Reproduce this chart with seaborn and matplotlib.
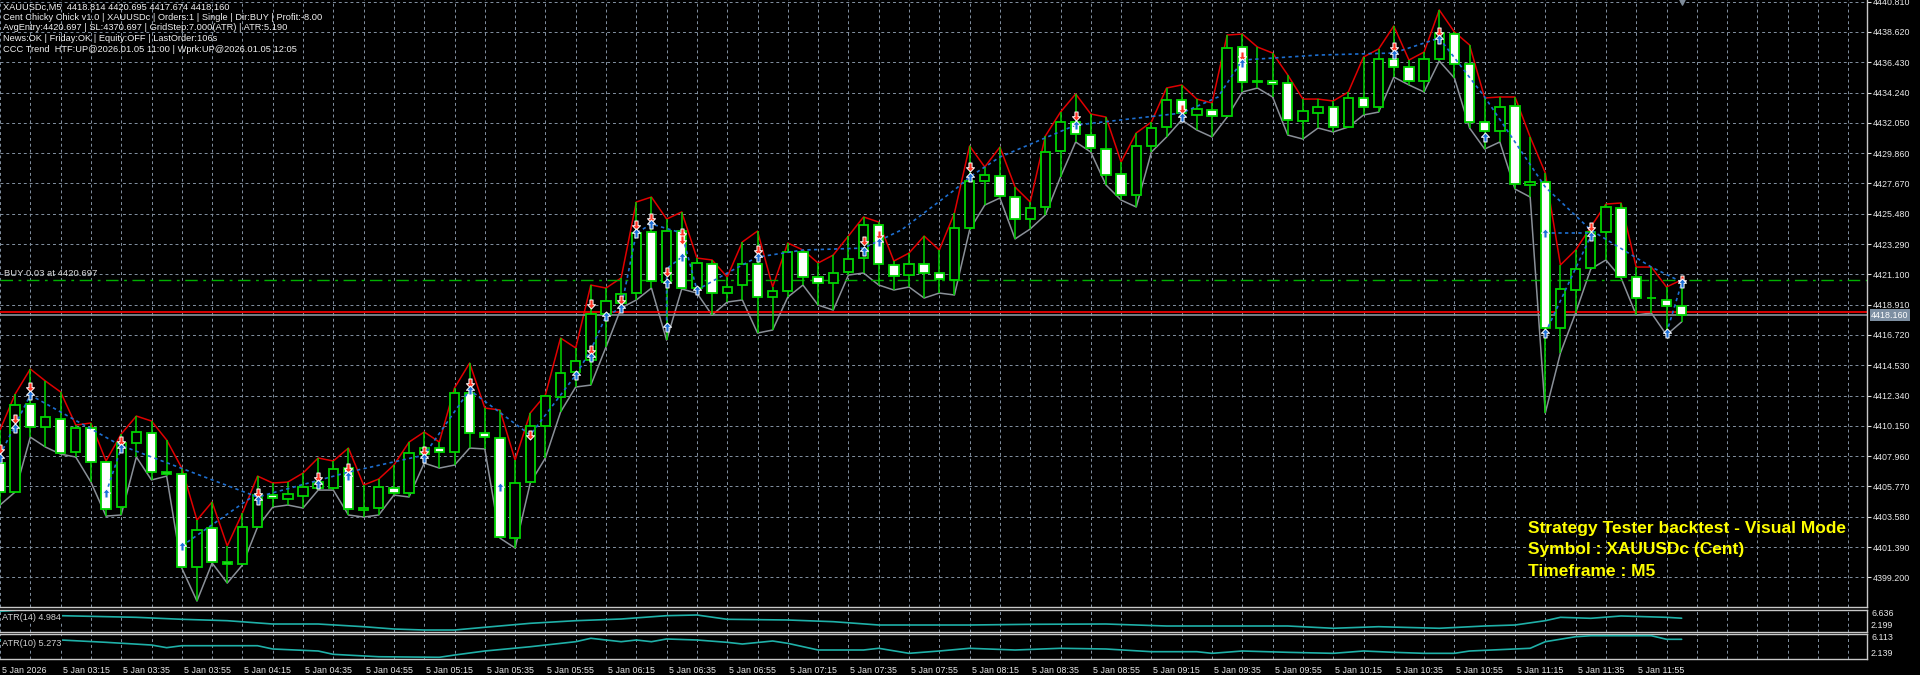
import numpy as np
import pandas as pd
import matplotlib
matplotlib.use("Agg")
import matplotlib.pyplot as plt
import matplotlib.transforms as mtransforms
from matplotlib.path import Path
import seaborn as sns

# XAUUSDc M5 bars, 5 Jan 2026 02:55 .. 12:10
opens = [
    4407.46, 4405.37, 4411.73, 4410.07, 4410.64, 4408.26, 4409.99, 4407.54, 4404.28, 4408.91,
    4409.63, 4406.81, 4406.67, 4399.95, 4402.77, 4400.31, 4400.16, 4402.84, 4405.15, 4404.86,
    4405.08, 4405.66, 4405.66, 4407.10, 4404.07, 4404.21, 4405.66, 4405.30, 4408.11, 4408.55,
    4408.26, 4412.52, 4409.63, 4409.27, 4402.04, 4406.09, 4410.14, 4412.23, 4414.04, 4414.91,
    4418.23, 4419.03, 4419.75, 4424.16, 4420.55, 4424.23, 4420.11, 4421.85, 4419.75, 4420.33,
    4421.85, 4419.46, 4419.90, 4422.72, 4420.91, 4420.47, 4421.27, 4422.28, 4424.67, 4421.78,
    4421.05, 4421.85, 4421.20, 4420.69, 4424.45, 4427.85, 4428.21, 4426.69, 4425.10, 4425.97,
    4430.02, 4432.11, 4431.17, 4430.16, 4428.35, 4426.84, 4430.38, 4431.75, 4433.70, 4432.62,
    4432.98, 4432.55, 4437.53, 4435.00, 4435.08, 4434.93, 4432.18, 4432.76, 4433.20, 4431.75,
    4433.85, 4433.20, 4436.67, 4436.09, 4435.08, 4436.67, 4438.47, 4436.30, 4432.11, 4431.46,
    4433.27, 4427.56, 4427.78, 4417.22, 4419.97, 4421.56, 4424.16, 4425.90, 4420.91, 4419.39,
    4419.25, 4418.81]
highs = [
    4409.85, 4412.45, 4414.26, 4413.39, 4412.60, 4410.21, 4410.36, 4407.61, 4409.56, 4410.86,
    4410.50, 4409.13, 4407.10, 4403.34, 4404.65, 4401.47, 4403.85, 4406.52, 4406.02, 4406.09,
    4406.74, 4407.83, 4407.61, 4408.55, 4405.87, 4406.31, 4407.32, 4408.98, 4409.71, 4408.98,
    4412.89, 4414.69, 4411.44, 4411.30, 4407.68, 4411.08, 4412.38, 4416.50, 4415.78, 4420.33,
    4420.11, 4420.84, 4426.33, 4426.69, 4425.10, 4425.61, 4422.28, 4422.14, 4420.91, 4423.44,
    4424.23, 4420.19, 4423.37, 4422.86, 4421.92, 4422.50, 4423.87, 4425.25, 4424.88, 4422.06,
    4422.64, 4423.87, 4422.86, 4425.53, 4430.38, 4428.86, 4430.30, 4427.41, 4426.33, 4431.10,
    4432.83, 4434.14, 4432.69, 4432.47, 4429.22, 4431.32, 4432.11, 4434.57, 4434.79, 4433.77,
    4433.49, 4438.40, 4438.47, 4437.53, 4437.10, 4435.51, 4433.77, 4433.77, 4433.63, 4434.28,
    4436.81, 4437.39, 4439.05, 4436.59, 4437.17, 4440.21, 4438.62, 4437.68, 4433.85, 4433.92,
    4433.92, 4431.03, 4428.43, 4421.78, 4422.86, 4424.52, 4426.18, 4426.26, 4421.63, 4421.63,
    4420.19, 4420.70]
lows = [
    4404.43, 4405.37, 4409.34, 4408.62, 4408.11, 4407.90, 4406.09, 4403.63, 4403.71, 4407.90,
    4406.24, 4406.52, 4399.87, 4397.49, 4400.24, 4398.79, 4400.09, 4402.84, 4404.28, 4404.43,
    4404.21, 4405.51, 4405.51, 4403.71, 4403.56, 4403.71, 4405.15, 4405.01, 4407.46, 4407.10,
    4407.32, 4408.55, 4408.48, 4402.04, 4401.32, 4406.02, 4407.83, 4411.15, 4412.96, 4413.10,
    4415.85, 4418.67, 4419.25, 4420.11, 4416.35, 4420.04, 4419.75, 4418.16, 4419.10, 4419.25,
    4416.86, 4417.08, 4419.46, 4420.33, 4418.88, 4418.52, 4421.05, 4421.20, 4420.33, 4419.97,
    4420.19, 4419.39, 4419.75, 4419.61, 4424.31, 4426.11, 4426.62, 4423.66, 4424.38, 4425.39,
    4428.14, 4430.67, 4429.94, 4427.56, 4426.47, 4425.97, 4429.94, 4431.03, 4432.26, 4431.53,
    4431.03, 4432.47, 4434.28, 4434.57, 4433.92, 4431.17, 4430.88, 4431.68, 4431.39, 4431.75,
    4432.62, 4432.83, 4435.36, 4434.79, 4434.28, 4436.52, 4435.29, 4431.68, 4430.16, 4430.67,
    4427.27, 4426.69, 4411.08, 4415.42, 4418.31, 4421.49, 4422.14, 4420.84, 4418.16, 4418.31,
    4416.72, 4417.67]
closes = [
    4405.37, 4411.66, 4410.07, 4410.79, 4408.19, 4409.99, 4407.54, 4404.14, 4408.91, 4409.71,
    4406.81, 4406.67, 4399.95, 4402.62, 4400.31, 4400.16, 4402.84, 4405.15, 4404.93, 4405.22,
    4405.73, 4406.09, 4407.03, 4404.14, 4404.21, 4405.73, 4405.30, 4408.19, 4408.55, 4408.26,
    4412.52, 4409.63, 4409.34, 4402.12, 4406.02, 4410.14, 4412.31, 4413.97, 4414.84, 4418.23,
    4419.17, 4419.68, 4424.09, 4420.62, 4424.23, 4420.11, 4421.92, 4419.75, 4420.19, 4421.85,
    4419.46, 4419.90, 4422.72, 4420.91, 4420.47, 4421.20, 4422.21, 4424.67, 4421.85, 4420.98,
    4421.85, 4421.20, 4420.76, 4424.45, 4427.85, 4428.28, 4426.76, 4425.10, 4425.90, 4429.94,
    4432.11, 4431.24, 4430.23, 4428.28, 4426.84, 4430.38, 4431.68, 4433.70, 4432.76, 4433.05,
    4432.55, 4437.46, 4435.00, 4435.08, 4434.86, 4432.26, 4432.91, 4433.20, 4431.75, 4433.85,
    4433.20, 4436.67, 4436.09, 4435.08, 4436.67, 4438.54, 4436.30, 4432.11, 4431.46, 4433.20,
    4427.63, 4427.78, 4417.22, 4420.04, 4421.49, 4424.16, 4425.97, 4420.91, 4419.39, 4419.36,
    4418.81, 4418.16]

# deal arrows
sell_idx = [0, 1, 2, 8, 17, 21, 23, 28, 31, 35, 39, 39, 41, 42, 43, 44, 45, 45, 50, 57,
            58, 64, 71, 78, 82, 92, 95, 105, 111]
sell_px = [4408.48, 4410.64, 4412.96, 4409.05, 4405.30, 4406.45, 4407.10, 4408.33, 4413.25,
           4409.49, 4418.96, 4415.63, 4419.25, 4424.67, 4425.17, 4421.27, 4424.09, 4423.58,
           4422.86, 4423.51, 4423.94, 4428.86, 4432.55, 4433.05, 4436.88, 4437.53, 4438.62,
           4424.52, 4420.69]
buy_idx = [0, 1, 2, 7, 8, 12, 17, 21, 23, 28, 31, 33, 38, 39, 40, 41, 42, 43, 44, 44, 45,
           46, 50, 57, 58, 64, 71, 78, 82, 92, 95, 98, 102, 102, 105, 110, 111]
buy_px = [4407.83, 4409.99, 4412.38, 4405.30, 4408.55, 4401.47, 4404.79, 4405.95, 4406.52,
          4407.83, 4412.74, 4405.73, 4413.82, 4415.13, 4418.09, 4418.67, 4424.09, 4424.74,
          4420.47, 4417.29, 4422.35, 4419.97, 4422.35, 4422.79, 4423.44, 4428.14, 4431.89,
          4432.47, 4436.38, 4437.03, 4438.11, 4431.03, 4424.09, 4416.86, 4423.87, 4416.86,
          4420.47]

# dotted trade history lines
trade_idx = [0, 2, 7.9, 17, 23, 28, 31, 35, 38, 39, 40, 41, 42, 43, 45, 46, 48, 50, 53, 57,
             59.5, 63, 64, 66, 71, 78, 80.4, 82, 87, 92, 95, 98, 102, 105, 109, 111]
trade_px = [4408.04, 4412.38, 4408.77, 4405.01, 4406.81, 4408.04, 4412.74, 4409.49, 4413.82,
            4415.63, 4418.09, 4418.67, 4424.09, 4424.74, 4424.09, 4419.97, 4421.20, 4422.35,
            4422.86, 4423.00, 4424.31, 4427.20, 4428.14, 4429.58, 4431.89, 4432.76, 4433.92,
            4436.59, 4436.95, 4437.10, 4438.18, 4433.92, 4427.41, 4424.31, 4421.63, 4420.55]
seg_idx = [[7, 8], [12, 17], [44, 44, 45], [102, 105], [102, 105], [110, 111]]
seg_px = [[4405.30, 4408.55], [4401.47, 4405.30], [4417.29, 4421.50, 4422.35],
          [4416.86, 4423.87], [4424.09, 4424.09], [4416.86, 4420.47]]

# indicator windows
atr14_idx = [0, 4, 9, 12, 15, 18, 21, 24, 26, 28, 30, 32, 35, 38, 41, 44, 46, 48, 52, 55,
             58, 61, 64, 68, 73, 77, 82, 85, 88, 91, 95, 98, 100, 102, 103, 105, 107, 110, 111]
atr14_val = [6.29, 5.49, 5.16, 4.76, 4.48, 3.81, 3.81, 3.27, 2.80, 2.60, 2.60, 3.15, 3.95,
             4.48, 4.82, 5.49, 5.63, 4.76, 4.62, 4.28, 3.61, 3.61, 3.61, 3.75, 3.81, 3.41,
             3.41, 3.41, 2.95, 3.27, 2.95, 3.41, 3.61, 4.48, 5.16, 4.96, 5.43, 5.16, 4.98]
atr10_idx = [0, 4, 7, 10, 11, 12, 17, 18, 21, 22, 25, 29, 30, 32, 35, 38, 39, 41, 42, 43,
             44, 46, 48, 49, 51, 52, 54, 57, 58, 60, 62, 64, 67, 70, 73, 76, 79, 80, 82, 85,
             88, 90, 92, 94, 96, 97, 101, 102, 104, 105, 109, 110, 111]
atr10_val = [5.16, 5.16, 4.79, 4.36, 3.94, 4.25, 4.25, 3.73, 3.41, 2.88, 2.50, 2.41, 2.77,
             3.41, 4.09, 4.89, 5.43, 4.89, 5.16, 4.89, 5.32, 5.16, 4.79, 4.52, 5.00, 4.63,
             3.57, 3.57, 3.84, 3.04, 3.41, 3.84, 3.57, 3.84, 3.73, 3.30, 3.30, 3.04, 3.41,
             3.20, 3.04, 3.41, 3.20, 3.04, 3.04, 3.41, 3.84, 4.89, 5.68, 5.84, 5.84, 5.27, 5.27]

price_ticks = [4399.200, 4401.390, 4403.580, 4405.770, 4407.960, 4410.150, 4412.340,
               4414.530, 4416.720, 4418.910, 4421.100, 4423.290, 4425.480, 4427.670,
               4429.860, 4432.050, 4434.240, 4436.430, 4438.620, 4440.810]
time_labels = ["5 Jan 2026", "5 Jan 03:15", "5 Jan 03:35", "5 Jan 03:55", "5 Jan 04:15",
               "5 Jan 04:35", "5 Jan 04:55", "5 Jan 05:15", "5 Jan 05:35", "5 Jan 05:55",
               "5 Jan 06:15", "5 Jan 06:35", "5 Jan 06:55", "5 Jan 07:15", "5 Jan 07:35",
               "5 Jan 07:55", "5 Jan 08:15", "5 Jan 08:35", "5 Jan 08:55", "5 Jan 09:15",
               "5 Jan 09:35", "5 Jan 09:55", "5 Jan 10:15", "5 Jan 10:35", "5 Jan 10:55",
               "5 Jan 11:15", "5 Jan 11:35", "5 Jan 11:55"]

info_lines = [
    "XAUUSDc,M5  4418.814 4420.695 4417.674 4418.160",
    "Cent Chicky Chick v1.0 | XAUUSDc | Orders:1 | Single | Dir:BUY | Profit:-8.00",
    "AvgEntry:4420.697 | SL:4370.697 | GridStep:7.000(ATR) | ATR:5.190",
    "News:OK | Friday:OK | Equity:OFF | LastOrder:106s",
    "CCC Trend  HTF:UP@2026.01.05 11:00 | Wprk:UP@2026.01.05 12:05",
]
tester_lines = ["Strategy Tester backtest - Visual Mode", "Symbol : XAUUSDc (Cent)", "Timeframe : M5"]

buy_level = 4420.697
bid = 4418.160
ask = 4418.41

df = pd.DataFrame({"bar": np.arange(len(opens)), "open": opens, "high": highs,
                   "low": lows, "close": closes})
df["up"] = df["close"] >= df["open"]

sns.set_style("dark")
plt.rcParams["font.family"] = ["Liberation Sans", "DejaVu Sans"]

BG = "black"
CANDLE = "#00d400"
GRID = "#8492a3"
TXT = "#e8e8e8"
W, H = 1920, 675
PX = 15.15
XMAX = 1867 / PX

fig = plt.figure(figsize=(W / 100, H / 100), dpi=100, facecolor=BG)
ax = fig.add_axes([0, 68 / H, 1867 / W, 607 / H])
ax14 = fig.add_axes([0, 43 / H, 1867 / W, 22 / H])
ax10 = fig.add_axes([0, 16 / H, 1867 / W, 25 / H])

major = list(range(0, 112, 4))
minor = [k for k in range(0, 124, 2) if k not in major]
for a in (ax, ax14, ax10):
    a.set_facecolor(BG)
    a.set_xlim(0.02, XMAX)
    a.set_xticks(major)
    a.set_xticks(minor, minor=True)
    a.grid(which="both", axis="x", color=GRID, lw=0.7, ls=(0, (3, 3)))
    a.set_axisbelow(True)
    for s in a.spines.values():
        s.set_color("#c8c8c8")
        s.set_linewidth(1.0)
    a.spines["left"].set_visible(False)
    a.tick_params(axis="x", which="both", length=0, labelbottom=False)

# main price window
ax.spines["top"].set_visible(False)
ax.set_ylim(4397.06, 4440.93)
ax.set_yticks(price_ticks)
ax.set_yticklabels([f"{v:.3f}" for v in price_ticks])
ax.yaxis.tick_right()
ax.tick_params(axis="y", colors=TXT, labelsize=6.4, length=3, width=0.8, pad=1)
ax.grid(axis="y", color=GRID, lw=0.7, ls=(0, (3, 3)))

sns.lineplot(data=df, x="bar", y="high", ax=ax, color="#e00000", lw=1.1,
             estimator=None, sort=False, legend=False, zorder=2)
sns.lineplot(data=df, x="bar", y="low", ax=ax, color="#8a9098", lw=1.1,
             estimator=None, sort=False, legend=False, zorder=2)

ax.vlines(df["bar"], df["low"], df["high"], color=CANDLE, lw=1.1, zorder=3)
body_lo = np.minimum(df["open"], df["close"])
body_h = np.maximum((df["close"] - df["open"]).abs(), 0.05)
ax.bar(df["bar"], body_h, bottom=body_lo, width=0.62,
       color=np.where(df["up"], "black", "white"), edgecolor=CANDLE, linewidth=1.3, zorder=4)

ax.axhline(buy_level, color="#00b000", lw=1.0, ls=(0, (9, 4, 2, 4)), zorder=2)
ax.axhline(ask, color="#ff0000", lw=1.2, zorder=2)
ax.axhline(bid, color="#8a929c", lw=1.2, zorder=2)

sns.lineplot(x=trade_idx, y=trade_px, ax=ax, color="#1e6fd0", lw=1.2, ls=(0, (2, 2)),
             estimator=None, sort=False, zorder=5)
for xs, ys in zip(seg_idx, seg_px):
    sns.lineplot(x=xs, y=ys, ax=ax, color="#1e6fd0", lw=1.2, ls=(0, (2, 2)),
                 estimator=None, sort=False, zorder=5)

up_arrow = Path([(0, 1), (0.9, 0.05), (0.35, 0.05), (0.35, -1), (-0.35, -1),
                 (-0.35, 0.05), (-0.9, 0.05), (0, 1)], closed=True)
down_arrow = Path([(x, -y) for x, y in up_arrow.vertices], closed=True)
ax.scatter(sell_idx, sell_px, marker=down_arrow, s=42, c="#ff3322",
           edgecolors="white", linewidths=0.7, zorder=7)
ax.scatter(buy_idx, buy_px, marker=up_arrow, s=42, c="#1c6fd8",
           edgecolors="white", linewidths=0.7, zorder=7)
ax.scatter([111], [4440.93], marker="v", s=45, c="#7f8c9a", clip_on=False, zorder=8)

ax.annotate(f"{bid:.3f}", xy=(1.0, bid), xycoords=("axes fraction", "data"),
            xytext=(3, 0), textcoords="offset points", va="center", ha="left",
            fontsize=6.4, color="white", annotation_clip=False,
            bbox=dict(boxstyle="square,pad=0.18", fc="#7d8fa2", ec="none"))

fig.text(4 / W, 1 - 274 / H, "BUY 0.03 at 4420.697", va="center", ha="left",
         fontsize=6.8, color="#d8d8d8")

# ATR windows
for a, xs, ys, lim in ((ax14, atr14_idx, atr14_val, (2.199, 6.636)),
                       (ax10, atr10_idx, atr10_val, (2.139, 6.113))):
    sns.lineplot(x=xs, y=ys, ax=a, color="#1fb0a8", lw=1.2, estimator=None, sort=False, zorder=3)
    a.set_ylim(*lim)
    a.tick_params(axis="y", length=0, labelleft=False, labelright=False)

# seaborn sets axis labels; the MT5 window has none
for a in (ax, ax14, ax10):
    a.set_xlabel("")
    a.set_ylabel("")

ax10.set_xticks(major)
ax10.set_xticklabels(time_labels)
ax10.tick_params(axis="x", which="major", length=4, width=0.8, color="#c8c8c8",
                 labelbottom=True, labelsize=6.4, labelcolor=TXT, pad=1)
shift = mtransforms.ScaledTranslation(2 / 100, 0, fig.dpi_scale_trans)
for lab in ax10.get_xticklabels():
    lab.set_ha("left")
    lab.set_transform(lab.get_transform() + shift)

fig.text(2 / W, 1 - 617 / H, "ATR(14) 4.984", fontsize=6.6, color="#d0d0d0", va="center",
         bbox=dict(fc=BG, ec="none", pad=0.5))
fig.text(2 / W, 1 - 643 / H, "ATR(10) 5.273", fontsize=6.6, color="#d0d0d0", va="center",
         bbox=dict(fc=BG, ec="none", pad=0.5))
for txt, yp in (("6.636", 614), ("2.199", 626), ("6.113", 638), ("2.139", 653)):
    fig.text(1871 / W, 1 - yp / H, txt, fontsize=6.4, color=TXT, va="center")

for i, line in enumerate(info_lines):
    fig.text(3 / W, 1 - (7 + 10.5 * i) / H, line, fontsize=6.7, color="#f0f0f0", va="center")

for i, line in enumerate(tester_lines):
    fig.text(1528 / W, 1 - (528 + 21.5 * i) / H, line, fontsize=12.5, fontweight="bold",
             color="#ffff00", va="center")

fig.savefig("out.png", dpi=100, facecolor=BG)
